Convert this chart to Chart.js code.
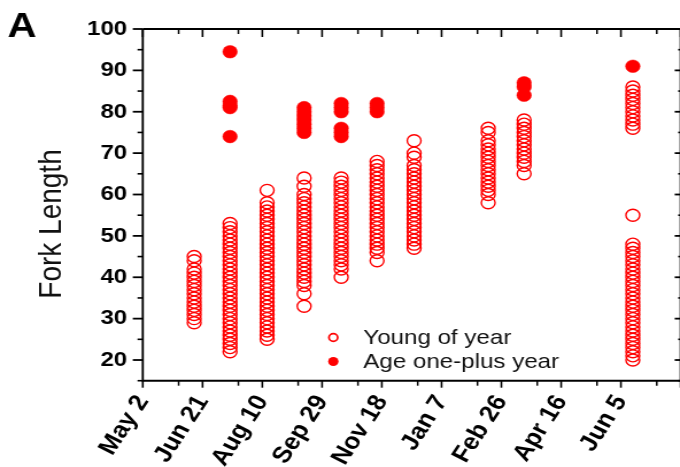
<!DOCTYPE html>
<html><head><meta charset="utf-8">
<script src="https://cdn.jsdelivr.net/npm/chart.js@4.4.1/dist/chart.umd.min.js"></script>
<style>
html,body{margin:0;padding:0;background:#fff;overflow:hidden}
#wrap{position:relative;width:680px;height:467px;overflow:hidden;background:#fff}
#stretch{position:absolute;left:0;top:0;width:600px;height:467px;transform:scaleX(1.1486);transform-origin:0 0}
canvas{display:block}
</style></head><body>
<div id="wrap"><div id="stretch"><canvas id="chart" width="600" height="467"></canvas></div></div>
<script>
// ---- data (x = days since May 2) ----
const tickLabels = ["May 2","Jun 21","Aug 10","Sep 29","Nov 18","Jan 7","Feb 26","Apr 16","Jun 5"];
const xMajorDays = [0,50,100,150,200,250,300,350,400,450];
const xMinorDays = [30,80,130,180,230,280,330,380,430];
const yMajorTicks = [20,30,40,50,60,70,80,90,100];
const yMinorTicks = [15,25,35,45,55,65,75,85,95];

const sampleDays = [43,73,104,135,166,196,227,289,319,410];
const yoyLengthsBySample = [
  [45,44,42,41,40,39,38,37,36,35,34,33,32,31,30,29],
  [53,52,51,50,49,48,47,46,45,44,43,42,41,40,39,38,37,36,35,34,33,32,31,30,29,28,27,26,25,24,23,22],
  [61,58,57,56,55,54,53,52,51,50,49,48,47,46,45,44,43,42,41,40,39,38,37,36,35,34,33,32,31,30,29,28,27,26,25],
  [64,62,60,59,58,57,56,55,54,53,52,51,50,49,48,47,46,45,44,43,42,41,40,39,38,36,33],
  [64,63,62,61,60,59,58,57,56,55,54,53,52,51,50,49,48,47,46,45,44,43,42,40],
  [68,67,66,65,64,63,62,61,60,59,58,57,56,55,54,53,52,51,50,49,48,47,46,44],
  [73,70,69,67,66,65,64,63,62,61,60,59,58,57,56,55,54,53,52,51,50,49,48,47],
  [76,75,73,72,71,70,69,68,67,66,65,64,63,62,61,60,58],
  [78,77,76,75,74,73,72,71,70,69,68,67,65],
  [86,85,84,83,82,81,80,79,78,77,76,55,48,47,46,45,44,43,42,41,40,39,38,37,36,35,34,33,32,31,30,29,28,27,26,25,24,23,22,21,20]
];
const adultSampleDays = [73,135,166,196,319,410];
const adultLengthsBySample = [
  [94.5,82.5,81.5,81,74],
  [81,80,79,78,77,76,75],
  [82,81,80,76,75,74],
  [82,81,80],
  [87,86,84],
  [91]
];
const seriesNames = ["Young of year","Age one-plus year"];
const axisTitle = "Fork Length";
const panelLetter = "A";

// ---- build point lists ----
const yoyPoints = [];
sampleDays.forEach((d,i)=>yoyLengthsBySample[i].forEach(v=>yoyPoints.push({x:d,y:v})));
const adultPoints = [];
adultSampleDays.forEach((d,i)=>adultLengthsBySample[i].forEach(v=>adultPoints.push({x:d,y:v})));

const RED = 'rgb(255,0,0)';
const FONT = "'Liberation Sans', Arial, sans-serif";

const framePlugin = {
  id:'frame',
  afterDraw(chart){
    const {ctx, chartArea:a, scales:{x,y}} = chart;
    ctx.save();
    ctx.strokeStyle = '#000';
    ctx.lineCap = 'butt';
    const seg=(x1,y1,x2,y2,w)=>{ctx.lineWidth=w;ctx.beginPath();ctx.moveTo(x1,y1);ctx.lineTo(x2,y2);ctx.stroke();};
    // axis lines
    seg(a.left,a.top,a.left,a.bottom+1,1.8);
    seg(a.left,a.bottom,a.right,a.bottom,2);
    seg(a.left,a.top,a.right,a.top,1.8);
    seg(a.right,a.top,a.right,a.bottom,1.8);
    // y ticks
    yMajorTicks.forEach(v=>{const p=y.getPixelForValue(v); seg(a.left-8.7,p,a.left,p,1.8); seg(a.right-5.2,p,a.right,p,1.8);});
    yMinorTicks.forEach(v=>{const p=y.getPixelForValue(v); seg(a.left-4.6,p,a.left,p,1.6); seg(a.right-2.2,p,a.right,p,1.6);});
    // x ticks
    xMajorDays.forEach(v=>{const p=x.getPixelForValue(v); seg(p,a.bottom,p,a.bottom+7,1.6); seg(p,a.top,p,a.top+8,1.6);});
    xMinorDays.forEach(v=>{const p=x.getPixelForValue(v); seg(p,a.bottom,p,a.bottom+5,1.5); seg(p,a.top,p,a.top+5,1.5);});
    // axis title
    ctx.fillStyle = '#111';
    ctx.font = "28px " + FONT;
    ctx.textAlign='center'; ctx.textBaseline='middle';
    ctx.translate(45.7,224); ctx.rotate(-Math.PI/2);
    ctx.fillText(axisTitle,0,0);
    ctx.restore();
    // panel letter
    ctx.save();
    ctx.fillStyle='#000';
    ctx.font = "bold 35px " + FONT;
    ctx.textAlign='left'; ctx.textBaseline='alphabetic';
    ctx.fillText(panelLetter,6.5,37);
    ctx.restore();
    // legend
    ctx.save();
    const ds = chart.data.datasets;
    const rows = [337.5, 361.5];
    ds.forEach((d,i)=>{
      const cy = rows[i];
      ctx.beginPath();
      ctx.arc(290.2, cy, i===0?3.8:4.5, 0, Math.PI*2);
      if(i===0){ctx.strokeStyle=d.borderColor; ctx.lineWidth=1.7; ctx.stroke();}
      else {ctx.fillStyle=d.backgroundColor; ctx.fill();}
      ctx.fillStyle='#111';
      ctx.font = "21px " + FONT;
      ctx.textAlign='left'; ctx.textBaseline='middle';
      ctx.fillText(d.label, 316.3, cy+1);
    });
    ctx.restore();
  }
};

Chart.defaults.font.family = FONT;
Chart.defaults.color = '#000';

new Chart(document.getElementById('chart'), {
  type:'scatter',
  data:{datasets:[
    {label:seriesNames[0], data:yoyPoints, pointStyle:'circle', pointRadius:6, pointBorderWidth:1.4,
     borderColor:RED, backgroundColor:'rgba(0,0,0,0)', pointBackgroundColor:'rgba(0,0,0,0)', pointBorderColor:RED},
    {label:seriesNames[1], data:adultPoints, pointStyle:'circle', pointRadius:6.3, pointBorderWidth:0.5,
     borderColor:RED, backgroundColor:RED, pointBackgroundColor:RED, pointBorderColor:RED}
  ]},
  options:{
    responsive:false, animation:false, devicePixelRatio:1,
    layout:{padding:{left:0,right:6.7,top:29,bottom:0}},
    plugins:{legend:{display:false}, tooltip:{enabled:false}},
    scales:{
      x:{type:'linear', min:0, max:450,
         grid:{display:false, drawTicks:false}, border:{display:false},
         afterBuildTicks:s=>{s.ticks = xMajorDays.map(v=>({value:v}));},
         afterFit:s=>{s.height = 467-380.7; s.paddingLeft=0; s.paddingRight=0;},
         ticks:{autoSkip:false, minRotation:60, maxRotation:60, padding:10,
                font:{size:23, weight:'bold'}, color:'#000',
                callback:(v)=>{const k=Math.round(v/50); return tickLabels[k] !== undefined ? tickLabels[k] : '';}}
      },
      y:{type:'linear', min:15, max:100,
         grid:{display:false, drawTicks:false}, border:{display:false},
         afterBuildTicks:s=>{s.ticks = yMajorTicks.map(v=>({value:v}));},
         afterFit:s=>{s.width = 124.3; s.paddingTop=0; s.paddingBottom=0;},
         ticks:{padding:13.5, font:{size:21, weight:'bold'}, color:'#000', callback:(v)=>String(v)}
      }
    }
  },
  plugins:[framePlugin]
});
</script>
</body></html>
